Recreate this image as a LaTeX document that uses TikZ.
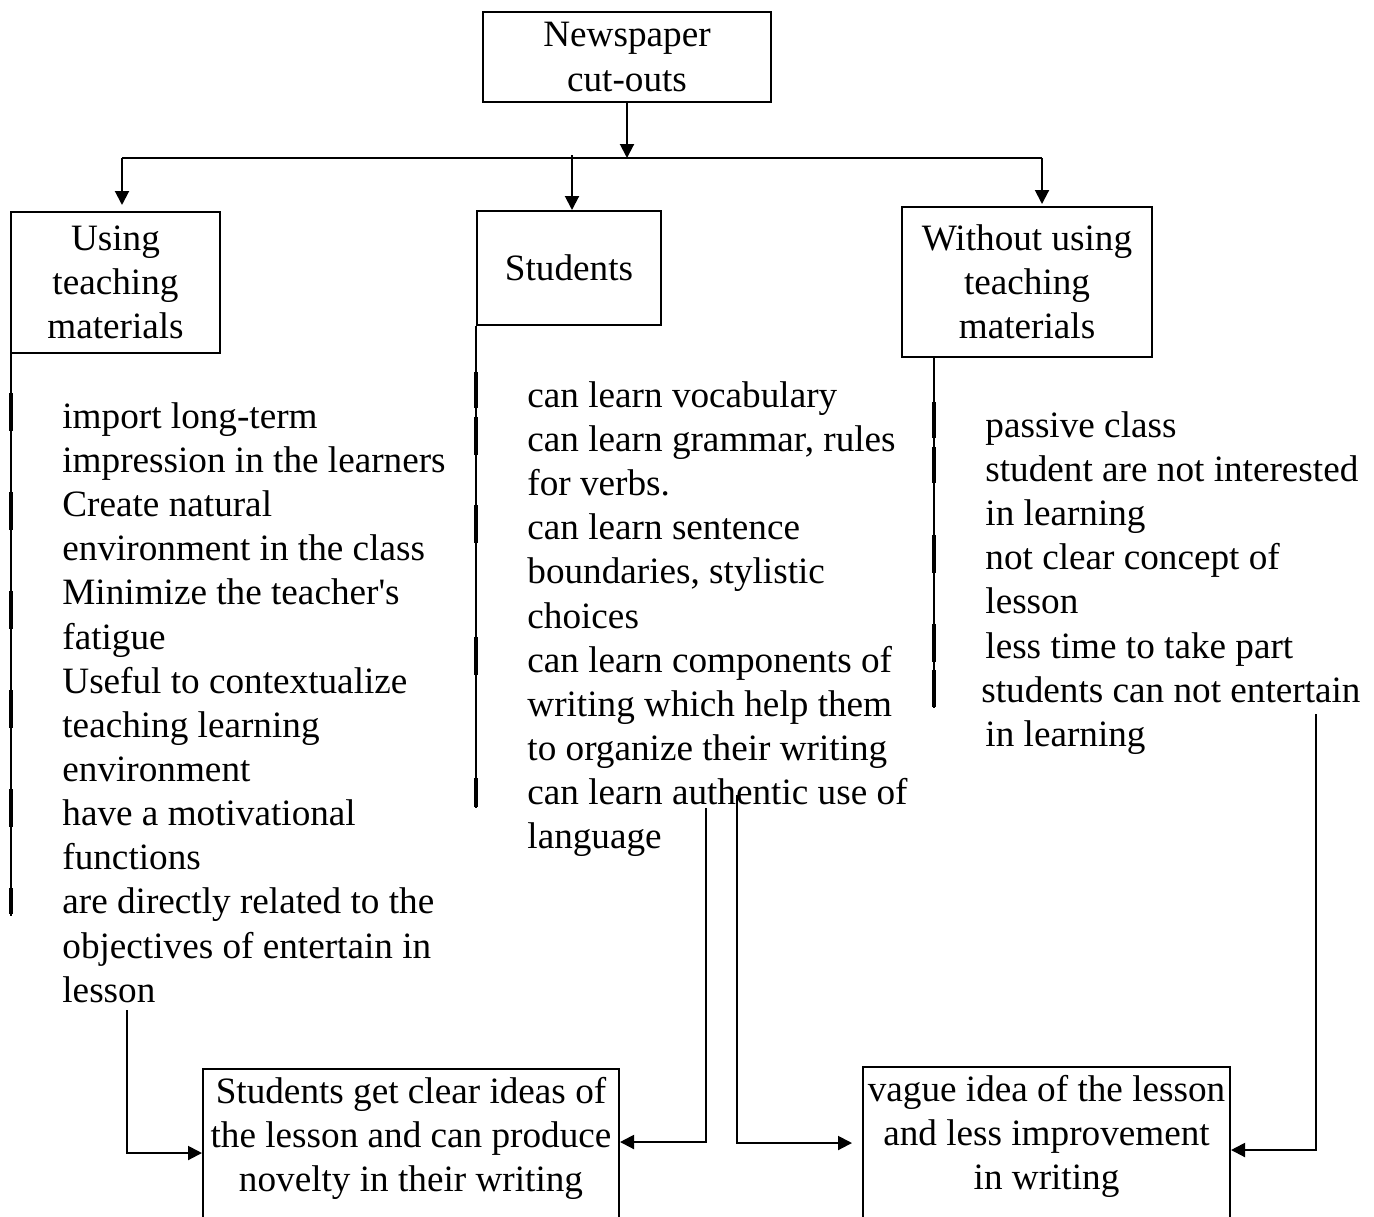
\documentclass[tikz,border=0pt]{standalone}
\usepackage{fontspec}
\setmainfont{Liberation Serif}
\usetikzlibrary{arrows.meta}

% room above the first line of the result boxes
\newcommand{\topgap}{\rule{0pt}{17pt}}

\tikzset{
  box/.style={draw, line width=1pt, align=center, inner sep=0pt},
  outbox/.style={box, anchor=north, execute at end node={\rule[-30pt]{0pt}{0pt}}},
  list/.style={anchor=north west, align=left, inner sep=0pt},
  link/.style={line width=1pt},
  arr/.style={line width=1pt, -{Triangle[length=7pt,width=7pt]}},
  listline/.style={line width=0.75pt},
  tickbar/.style={line width=1.6pt}
}

\begin{document}
\begin{tikzpicture}[x=0.5pt, y=-0.5pt, font=\fontsize{18.6}{22.08}\selectfont]
  \useasboundingbox (0,0) rectangle (1374,1216);
  \clip (0,0) rectangle (1374,1216);

  % Top box
  \node[box, minimum width=144pt, minimum height=45pt] (paper) at (627,57) {Newspaper\\cut-outs};

  % Three branches
  \node[box, minimum width=104.5pt, minimum height=70.5pt] (usebox) at (115.5,282.5) {Using\\teaching\\materials};
  \node[box, minimum width=92pt, minimum height=57pt] (stubox) at (569,268) {Students};
  \node[box, minimum width=125pt, minimum height=75pt] (withbox) at (1027,282) {Without using\\teaching\\materials};

  \coordinate (hub) at (627,158);
  \coordinate (barL) at (122,158);
  \coordinate (barR) at (1042,158);
  \coordinate (stuTop) at (572,155);
  \draw[arr] (paper) -- (hub);
  \draw[link] (barL) -- (barR);
  \draw[arr, shorten >=3pt] (barL) -- (barL |- usebox.north);
  \draw[arr] (stuTop) -- (stuTop |- stubox.north);
  \draw[arr, shorten >=1pt] (barR) -- (barR |- withbox.north);

  % Lists
  \node[list] (uselist) at (62,402) {import long-term\\impression in the learners\\Create natural\\environment in the class\\Minimize the teacher\textquotesingle s\\fatigue\\Useful to contextualize\\teaching learning\\environment\\have a motivational\\functions\\are directly related to the\\objectives of entertain in\\lesson};
  \node[list] (stulist) at (527,381) {can learn vocabulary\\can learn grammar, rules\\for verbs.\\can learn sentence\\boundaries, stylistic\\choices\\can learn components of\\writing which help them\\to organize their writing\\can learn authentic use of\\language};
  \node[list] (withlist) at (985,411) {passive class\\student are not interested\\in learning\\not clear concept of\\lesson\\less time to take part\\\hspace*{-2pt}students can not entertain\\in learning};

  % side lines of the lists
  \coordinate (useline) at (usebox.south west);
  \coordinate (stuline) at (stubox.south west);
  \coordinate (withline) at ([xshift=16.5pt]withbox.south west);
  \draw[listline] ([xshift=0.5pt]useline) -- ++(0,562);
  \draw[listline] (stuline) -- ++(0,482);
  \draw[listline] (withline) -- ++(0,350);
  \foreach \a/\b in {393/431,492/530,591/629,690/728,789/827,888/914}
    \draw[tickbar] ([xshift=0.5pt]useline |- 0,\a) -- ([xshift=0.5pt]useline |- 0,\b);
  \foreach \a/\b in {372/408,417/455,505/543,637/675,778/807}
    \draw[tickbar] (stuline |- 0,\a) -- (stuline |- 0,\b);
  \foreach \a/\b in {402/438,447/483,535/573,624/662,670/707}
    \draw[tickbar] (withline |- 0,\a) -- (withline |- 0,\b);

  % Results
  \node[outbox, minimum width=208pt] (goodbox) at (411,1068) {\topgap Students get clear ideas of\\the lesson and can produce\\novelty in their writing};
  \node[outbox, minimum width=183.5pt] (badbox) at (1046.5,1066) {\topgap vague idea of the lesson\\and less improvement\\in writing};

  \coordinate (useEnd) at (127,1010);
  \coordinate (stuEndA) at (706,808);
  \coordinate (stuEndB) at (737,795);
  \coordinate (withEnd) at (1316,714);
  \draw[arr] (useEnd) |- (goodbox.west |- 0,1153);
  \draw[arr] (stuEndA) |- (goodbox.east |- 0,1142);
  \draw[arr, shorten >=5pt] (stuEndB) |- (badbox.west |- 0,1143);
  \draw[arr] (withEnd) |- (badbox.east |- 0,1150);
\end{tikzpicture}
\end{document}
